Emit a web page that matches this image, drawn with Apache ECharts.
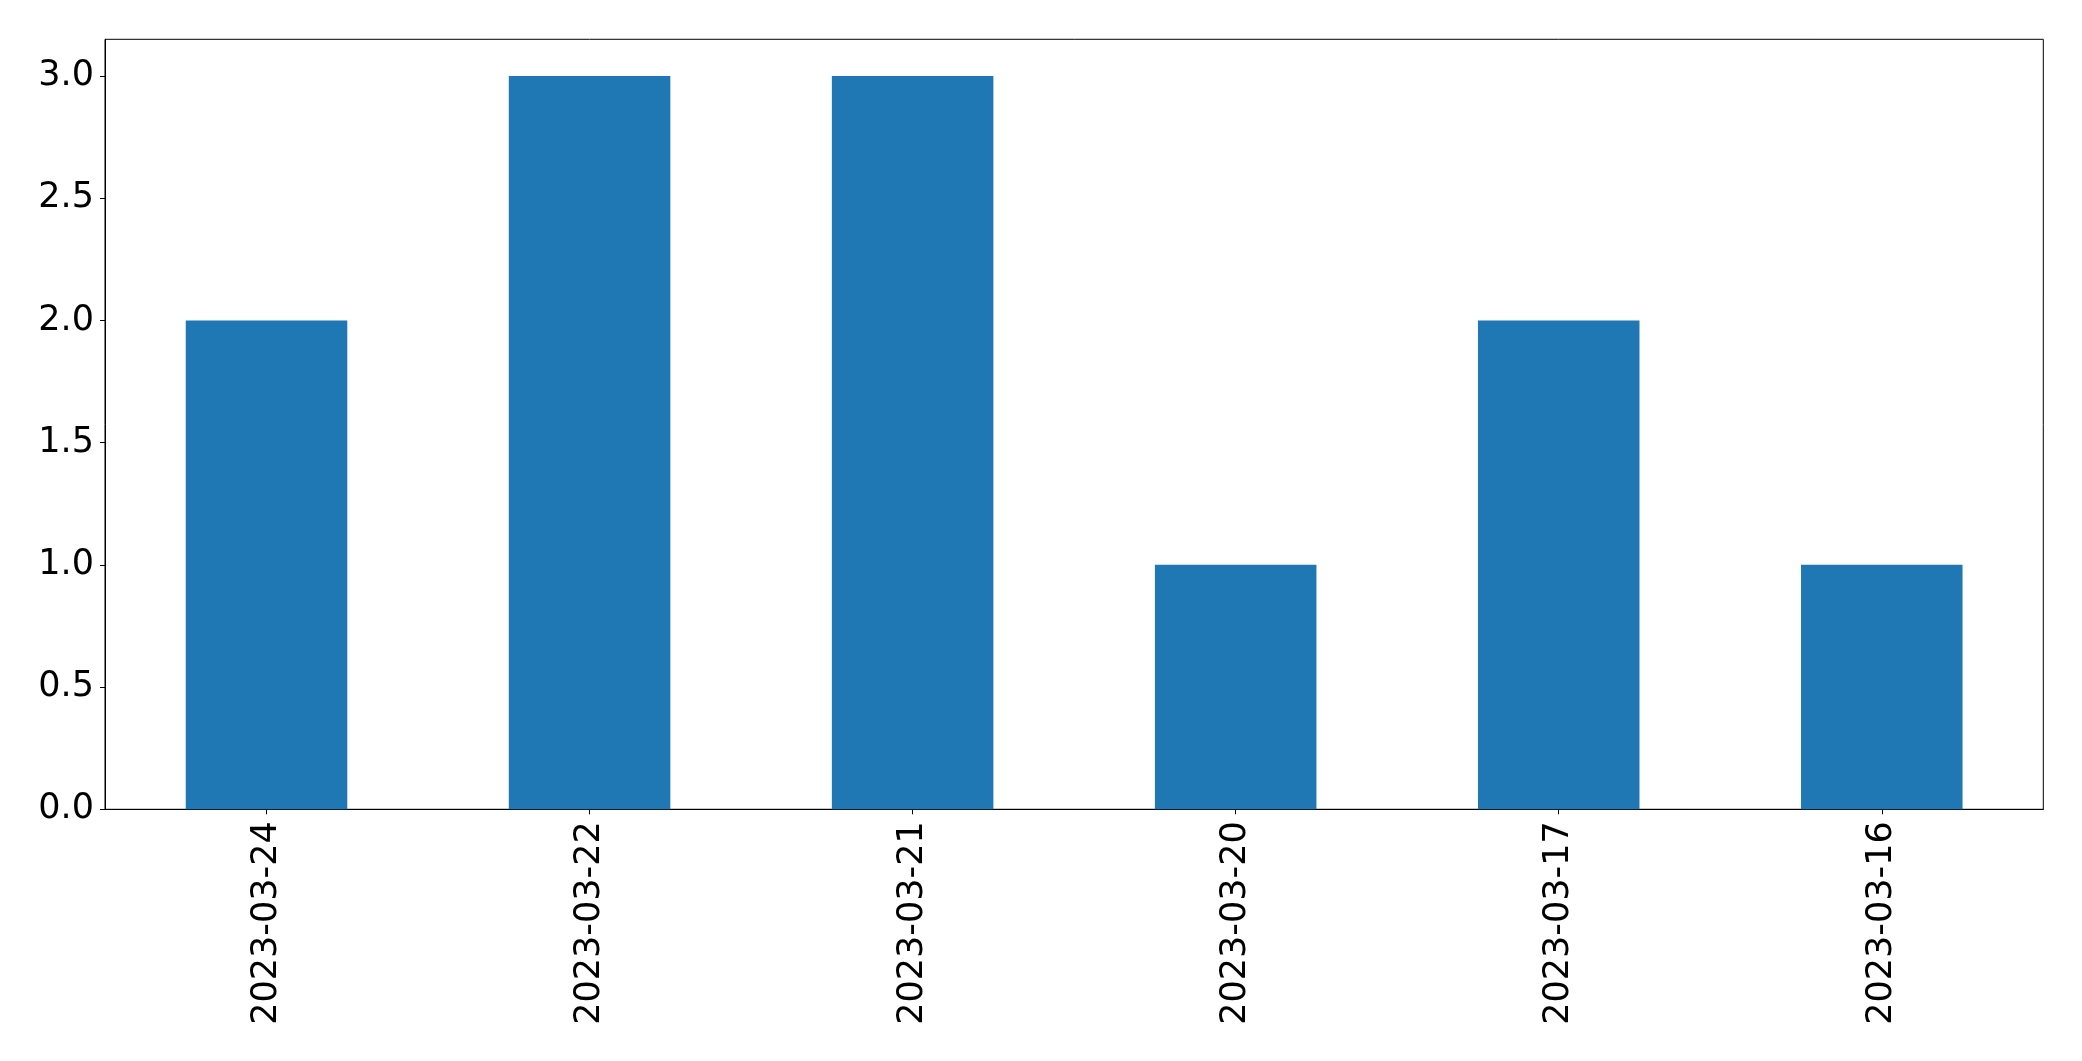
<!DOCTYPE html>
<html>
<head>
<meta charset="utf-8">
<script src="https://cdn.jsdelivr.net/npm/echarts@6/dist/echarts.min.js"></script>
<style>
html,body{margin:0;padding:0;background:#fff;}
#chart{width:2082px;height:1061px;}
</style>
</head>
<body>
<div id="chart"></div>
<script>
const categories = ['2023-03-24', '2023-03-22', '2023-03-21', '2023-03-20', '2023-03-17', '2023-03-16'];
const values = [2, 3, 3, 1, 2, 1];
const yTicks = [0, 0.5, 1.0, 1.5, 2.0, 2.5, 3.0];

const chart = echarts.init(document.getElementById('chart'), null, {renderer: 'canvas'});
const font = 'DejaVu Sans';
chart.setOption({
  animation: false,
  backgroundColor: '#ffffff',
  grid: {
    left: 105, right: 38.7, top: 39.3, bottom: 251.7,
    show: true, borderColor: '#000', borderWidth: 1, backgroundColor: 'transparent'
  },
  xAxis: {
    type: 'category',
    data: categories,
    boundaryGap: true,
    axisLine: {show: true, lineStyle: {color: '#000', width: 1}},
    axisTick: {show: true, alignWithLabel: true, length: 5, lineStyle: {color: '#000', width: 1}},
    axisLabel: {
      rotate: 90, margin: 12, color: '#000', fontFamily: font, fontSize: 35, interval: 0
    },
    splitLine: {show: false}
  },
  yAxis: {
    type: 'value',
    min: 0,
    max: 3.15,
    interval: 0.5,
    axisLine: {show: true, lineStyle: {color: '#000', width: 1}},
    axisTick: {show: true, length: 5, lineStyle: {color: '#000', width: 1}, customValues: yTicks},
    axisLabel: {
      color: '#000', fontFamily: font, fontSize: 35, margin: 11,
      customValues: yTicks,
      formatter: v => v.toFixed(1)
    },
    splitLine: {show: false}
  },
  series: [{
    type: 'bar',
    data: values,
    barWidth: '50%',
    itemStyle: {color: '#1f77b4'}
  }]
});
</script>
</body>
</html>
